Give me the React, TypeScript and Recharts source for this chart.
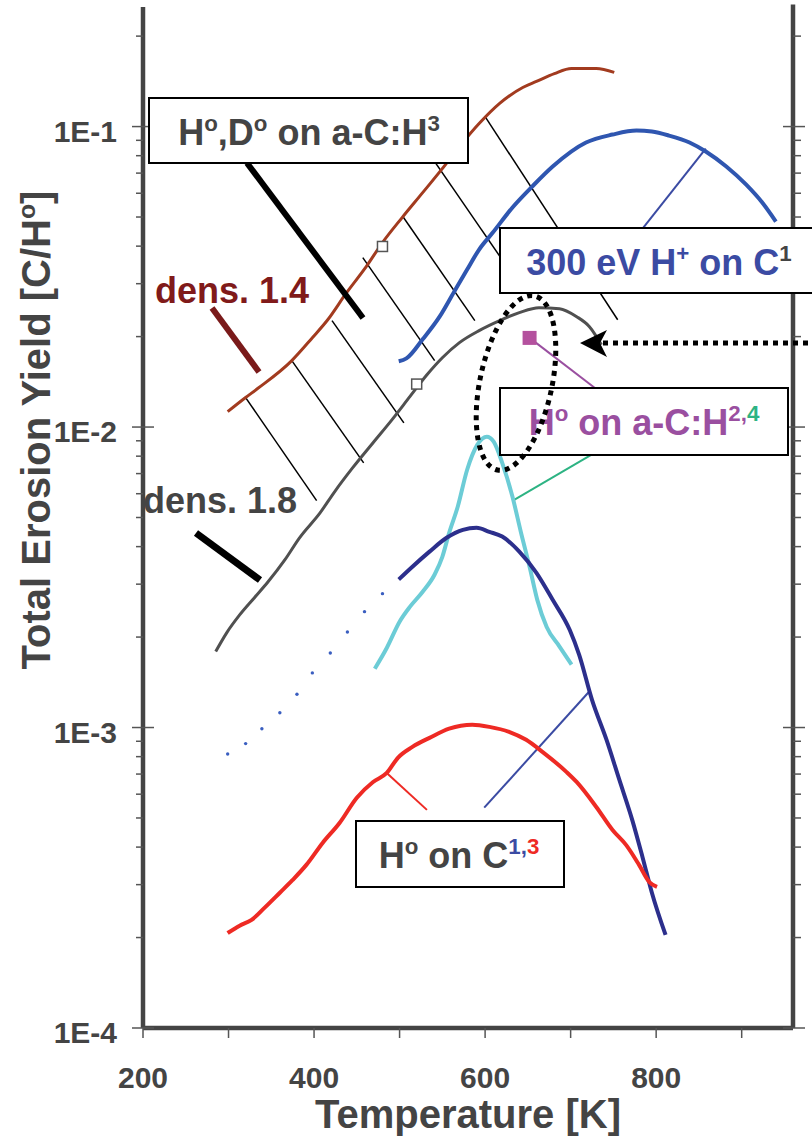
import {
  ComposedChart,
  Line,
  Scatter,
  XAxis,
  YAxis,
  ReferenceLine,
} from "recharts";

// temperature [K] / yield [C/H]
const brownT = [299, 320, 334, 374, 398, 416, 438, 461, 480, 503, 527, 549, 570, 593, 617, 644, 660, 681, 701, 730, 751];
const brownY = [0.01125, 0.01254, 0.01343, 0.01664, 0.01982, 0.02275, 0.02799, 0.03418, 0.0411, 0.04979, 0.06026, 0.0719, 0.08576, 0.1023, 0.1194, 0.1349, 0.1413, 0.1501, 0.156, 0.156, 0.1514];

const grayT = [285, 298, 313, 331, 346, 366, 383, 407, 424, 445, 469, 491, 512, 532, 550, 570, 593, 617, 640, 663, 687, 707, 722, 736];
const grayY = [0.00179, 0.00207, 0.00237, 0.00272, 0.00305, 0.00362, 0.00428, 0.00518, 0.00609, 0.00731, 0.00887, 0.01057, 0.01262, 0.01493, 0.01701, 0.0191, 0.02094, 0.02261, 0.02403, 0.02496, 0.02477, 0.0233, 0.02158, 0.01879];

const blueT = [499, 508, 527, 547, 564, 579, 593, 609, 632, 655, 679, 718, 749, 777, 795, 815, 839, 858, 882, 905, 924, 940];
const blueY = [0.01655, 0.01692, 0.01958, 0.02334, 0.02826, 0.03342, 0.03898, 0.04438, 0.05379, 0.06313, 0.07363, 0.08851, 0.09406, 0.09698, 0.09624, 0.09333, 0.08851, 0.08261, 0.07363, 0.06417, 0.05586, 0.04828];

const navyT = [499, 515, 535, 555, 574, 590, 605, 620, 640, 660, 679, 699, 710, 725, 742, 757, 772, 784, 795, 811];
const navyY = [0.00311, 0.00343, 0.00385, 0.00428, 0.00455, 0.00462, 0.00448, 0.00432, 0.00385, 0.00327, 0.00266, 0.00211, 0.001745, 0.001236, 0.000909, 0.000669, 0.000493, 0.000371, 0.000282, 0.000204];

const cyanT = [471, 485, 500, 512, 527, 541, 550, 558, 568, 579, 591, 602, 610, 620, 632, 642, 652, 661, 672, 687, 701];
const cyanY = [0.00157, 0.00184, 0.00225, 0.00252, 0.00283, 0.00323, 0.0037, 0.00445, 0.00543, 0.00721, 0.00874, 0.00929, 0.00894, 0.0076, 0.00586, 0.00445, 0.00343, 0.00266, 0.00216, 0.00186, 0.00162];

const redT = [299, 313, 327, 342, 360, 375, 391, 410, 430, 450, 469, 485, 498, 515, 535, 558, 585, 605, 628, 648, 667, 695, 707, 730, 749, 765, 780, 792, 801];
const redY = [0.000207, 0.000219, 0.000229, 0.000251, 0.000282, 0.000311, 0.000349, 0.000413, 0.000482, 0.000584, 0.000659, 0.000706, 0.000793, 0.000862, 0.000924, 0.000991, 0.001021, 0.001005, 0.000968, 0.00091, 0.00083, 0.000712, 0.000659, 0.000544, 0.000456, 0.000406, 0.000349, 0.000306, 0.000295];

// dotted extrapolation of the H on C curve
const dotsT = [299, 320, 339, 360, 380, 398, 419, 439, 459, 480];
const dotsY = [0.000816, 0.000884, 0.000991, 0.00112, 0.00129, 0.00152, 0.00177, 0.00208, 0.00243, 0.00279];

const openSqT = [480, 520];
const openSqY = [0.0399, 0.0139];
const filledSqT = [652];
const filledSqY = [0.0198];

const xTicks = [200, 300, 400, 500, 600, 700, 800, 900];
const yTicks = [
  0.0001, 0.0002, 0.0003, 0.0004, 0.0005, 0.0006, 0.0007, 0.0008, 0.0009,
  0.001, 0.002, 0.003, 0.004, 0.005, 0.006, 0.007, 0.008, 0.009,
  0.01, 0.02, 0.03, 0.04, 0.05, 0.06, 0.07, 0.08, 0.09,
  0.1, 0.2,
];
const xDomain = [200, 960];
const yDomain = [0.0001, 0.25];

// annotation segments in data units [T1, Y1, T2, Y2]
const hatchLines = [
  [320, 0.01253, 403, 0.00569],
  [374, 0.01663, 458, 0.0076],
  [421, 0.0226, 505, 0.01033],
  [457, 0.03664, 541, 0.01663],
  [504, 0.05012, 588, 0.0226],
  [541, 0.07641, 640, 0.02978],
  [600, 0.1079, 755, 0.02275],
];
const leaderLines = [
  { s: [785, 0.0461, 858, 0.0845], c: "#3B4BA3" },
  { s: [652, 0.0198, 728, 0.01352], c: "#9A4FA0" },
  { s: [728, 0.0082, 634, 0.00572], c: "#2DB383" },
  { s: [485, 0.000706, 532, 0.000532], c: "#EE2A24" },
  { s: [599, 0.000541, 721, 0.00131], c: "#3B4BA3" },
];

const zip = (t: number[], y: number[]) => t.map((v, i) => ({ t: v, y: y[i] }));

const FONT = "'Liberation Sans', Arial, Helvetica, sans-serif";
const AXIS = "#444";

const isMajor = (v: number) => Math.abs(Math.log10(v) - Math.round(Math.log10(v))) < 1e-6;

const LeftTick = (props: any) => {
  const { x, y, payload } = props;
  const major = isMajor(payload.value);
  return (
    <g>
      <line x1={major ? x - 11 : x - 7} x2={major ? x + 11 : x} y1={y} y2={y} stroke="#555" strokeWidth={1.5} />
      {major && (
        <text x={x - 26} y={y + 15} textAnchor="end" fontSize={30} fontWeight="bold" fill="#444" fontFamily={FONT}>
          {"1E" + Math.round(Math.log10(payload.value))}
        </text>
      )}
    </g>
  );
};

const RightTick = (props: any) => {
  const { x, y, payload } = props;
  const major = isMajor(payload.value);
  return <line x1={major ? x - 10 : x} x2={major ? x + 12 : x + 8} y1={y} y2={y} stroke="#555" strokeWidth={1.5} />;
};

const BottomTick = (props: any) => {
  const { x, y, payload } = props;
  return (
    <g>
      <line x1={x} x2={x} y1={y} y2={y + 10} stroke="#555" strokeWidth={1.5} />
      {payload.value % 200 === 0 && (
        <text x={x} y={y + 60} textAnchor="middle" fontSize={30} fontWeight="bold" fill="#444" fontFamily={FONT}>
          {payload.value}
        </text>
      )}
    </g>
  );
};

const OpenSquare = (props: any) => (
  <rect x={props.cx - 5} y={props.cy - 5} width={10} height={10} fill="#fff" stroke="#555" strokeWidth={1.5} />
);
const FilledSquare = (props: any) => (
  <rect x={props.cx - 7} y={props.cy - 7} width={14} height={14} fill="#B4519E" />
);
const Dot = (props: any) => <circle cx={props.cx} cy={props.cy} r={1.7} fill="#3A5EC0" />;

type Part = { t: string; sup?: boolean; c?: string };

const Rich = ({ x, y, size, color, parts, anchor = "middle" }: any) => {
  let raised = false;
  return (
    <text x={x} y={y} fontSize={size} fontWeight="bold" fill={color} fontFamily={FONT} textAnchor={anchor}>
      {(parts as Part[]).map((p, i) => {
        let dy = 0;
        if (p.sup && !raised) {
          dy = -size * 0.38;
          raised = true;
        } else if (!p.sup && raised) {
          dy = size * 0.38;
          raised = false;
        }
        return (
          <tspan key={i} dy={dy} fontSize={p.sup ? size * 0.62 : size} fill={p.c || color}>
            {p.t}
          </tspan>
        );
      })}
    </text>
  );
};

const Overlay = () => (
  <svg width={812} height={1137} style={{ position: "absolute", left: 0, top: 0, pointerEvents: "none" }}>
    <g transform="rotate(-90)">
      <Rich x={-430} y={50} size={40} color="#444" parts={[{ t: "Total Erosion Yield [C/H" }, { t: "o", sup: true }, { t: "]" }]} />
    </g>
    <text x={468} y={1128} textAnchor="middle" fontSize={40} fontWeight="bold" fill="#444" fontFamily={FONT}>
      Temperature [K]
    </text>

    <line x1={212} y1={308} x2={259} y2={372} stroke="#7A1A1A" strokeWidth={6} />
    <line x1={196} y1={533} x2={260} y2={580} stroke="#000" strokeWidth={7} />
    <line x1={247} y1={163} x2={363} y2={318} stroke="#000" strokeWidth={6} />

    <text x={155} y={303} fontSize={36} fontWeight="bold" fill="#801A1A" fontFamily={FONT}>dens. 1.4</text>
    <text x={143} y={513} fontSize={36} fontWeight="bold" fill="#444" fontFamily={FONT}>dens. 1.8</text>

    <rect x={149} y={98} width={319} height={65} fill="#fff" stroke="#000" strokeWidth={2} />
    <Rich x={309} y={145} size={36} color="#444"
      parts={[{ t: "H" }, { t: "o", sup: true }, { t: ",D" }, { t: "o", sup: true }, { t: " on a-C:H" }, { t: "3", sup: true }]} />

    <rect x={500} y={228} width={340} height={65} fill="#fff" stroke="#000" strokeWidth={2} />
    <Rich x={659} y={275} size={36} color="#3B4BA3"
      parts={[{ t: "300 eV H" }, { t: "+", sup: true }, { t: " on C" }, { t: "1", sup: true, c: "#444" }]} />

    <rect x={500} y={388} width={288} height={67} fill="#fff" stroke="#000" strokeWidth={2} />
    <Rich x={644} y={435} size={36} color="#9A4FA0"
      parts={[{ t: "H" }, { t: "o", sup: true }, { t: " on a-C:H" }, { t: "2,", sup: true }, { t: "4", sup: true, c: "#2DB383" }]} />

    <rect x={356} y={821} width={208} height={66} fill="#fff" stroke="#000" strokeWidth={2} />
    <Rich x={459} y={868} size={36} color="#444"
      parts={[{ t: "H" }, { t: "o", sup: true }, { t: " on C" }, { t: "1,", sup: true, c: "#3B4BA3" }, { t: "3", sup: true, c: "#EE2A24" }]} />

    <ellipse cx={516} cy={383} rx={36} ry={89} transform="rotate(12 516 383)" fill="none" stroke="#000" strokeWidth={5} strokeDasharray="5 5" />
    <line x1={603} y1={343} x2={812} y2={343} stroke="#000" strokeWidth={5} strokeDasharray="5 5" />
    <polygon points="580,343 607,330 600,343 607,357" fill="#000" />
  </svg>
);

const App = () => {
  return (
    <div style={{ position: "absolute", left: 0, top: 0, width: 812, height: 1137, background: "#fff" }}>
      <ComposedChart width={812} height={1137} margin={{ top: 7, right: 0, bottom: 29, left: 0 }}>
        <XAxis
          xAxisId="b"
          type="number"
          dataKey="t"
          domain={xDomain}
          allowDataOverflow
          ticks={xTicks}
          interval={0}
          height={80}
          tickSize={0}
          tickMargin={0}
          tick={<BottomTick />}
          tickLine={false}
          axisLine={false}
        />
        <XAxis
          xAxisId="top"
          orientation="top"
          type="number"
          dataKey="t"
          domain={xDomain}
          allowDataOverflow
          height={0}
          tick={false}
          tickLine={false}
          stroke="#666"
          axisLine={{ stroke: "#666", strokeWidth: 2.5 }}
        />
        <YAxis
          yAxisId="l"
          type="number"
          scale="log"
          domain={yDomain}
          allowDataOverflow
          ticks={yTicks}
          interval={0}
          width={143}
          tickSize={0}
          tickMargin={0}
          tick={<LeftTick />}
          tickLine={false}
          axisLine={false}
        />
        <YAxis
          yAxisId="r"
          orientation="right"
          type="number"
          scale="log"
          domain={yDomain}
          allowDataOverflow
          ticks={yTicks}
          interval={0}
          width={19}
          tickSize={0}
          tickMargin={0}
          tick={<RightTick />}
          tickLine={false}
          axisLine={false}
        />

        {/* heavy frame */}
        <ReferenceLine xAxisId="b" yAxisId="l" x={xDomain[0]} ifOverflow="visible" stroke={AXIS} strokeWidth={4.5}
          segment={[{ x: xDomain[0], y: 0.255 }, { x: xDomain[0], y: yDomain[0] }]} />
        <ReferenceLine xAxisId="b" yAxisId="l" ifOverflow="visible" stroke={AXIS} strokeWidth={4.5}
          segment={[{ x: xDomain[1], y: 0.255 }, { x: xDomain[1], y: yDomain[0] }]} />
        <ReferenceLine xAxisId="b" yAxisId="l" ifOverflow="visible" stroke={AXIS} strokeWidth={4.5}
          segment={[{ x: xDomain[0], y: yDomain[0] }, { x: xDomain[1], y: yDomain[0] }]} />

        {hatchLines.map((s, i) => (
          <ReferenceLine key={"h" + i} xAxisId="b" yAxisId="l" ifOverflow="visible"
            segment={[{ x: s[0], y: s[1] }, { x: s[2], y: s[3] }]} stroke="#000" strokeWidth={1.5} />
        ))}
        {leaderLines.map((l, i) => (
          <ReferenceLine key={"l" + i} xAxisId="b" yAxisId="l" ifOverflow="visible"
            segment={[{ x: l.s[0], y: l.s[1] }, { x: l.s[2], y: l.s[3] }]} stroke={l.c} strokeWidth={2} />
        ))}

        <Line xAxisId="b" yAxisId="l" type="monotone" data={zip(brownT, brownY)} dataKey="y" stroke="#A23B1F" strokeWidth={3} dot={false} activeDot={false} isAnimationActive={false} />
        <Line xAxisId="b" yAxisId="l" type="monotone" data={zip(grayT, grayY)} dataKey="y" stroke="#505050" strokeWidth={3} dot={false} activeDot={false} isAnimationActive={false} />
        <Line xAxisId="b" yAxisId="l" type="monotone" data={zip(blueT, blueY)} dataKey="y" stroke="#2F56B0" strokeWidth={4} dot={false} activeDot={false} isAnimationActive={false} />
        <Line xAxisId="b" yAxisId="l" type="monotone" data={zip(cyanT, cyanY)} dataKey="y" stroke="#6CCCD6" strokeWidth={4} dot={false} activeDot={false} isAnimationActive={false} />
        <Line xAxisId="b" yAxisId="l" type="monotone" data={zip(navyT, navyY)} dataKey="y" stroke="#2C2F8C" strokeWidth={4} dot={false} activeDot={false} isAnimationActive={false} />
        <Line xAxisId="b" yAxisId="l" type="monotone" data={zip(redT, redY)} dataKey="y" stroke="#EE2A24" strokeWidth={4} dot={false} activeDot={false} isAnimationActive={false} />

        <Scatter xAxisId="b" yAxisId="l" data={zip(dotsT, dotsY)} dataKey="y" shape={<Dot />} isAnimationActive={false} />
        <Scatter xAxisId="b" yAxisId="l" data={zip(openSqT, openSqY)} dataKey="y" shape={<OpenSquare />} isAnimationActive={false} />
        <Scatter xAxisId="b" yAxisId="l" data={zip(filledSqT, filledSqY)} dataKey="y" shape={<FilledSquare />} isAnimationActive={false} />
      </ComposedChart>
      <Overlay />
    </div>
  );
};

export default App;
